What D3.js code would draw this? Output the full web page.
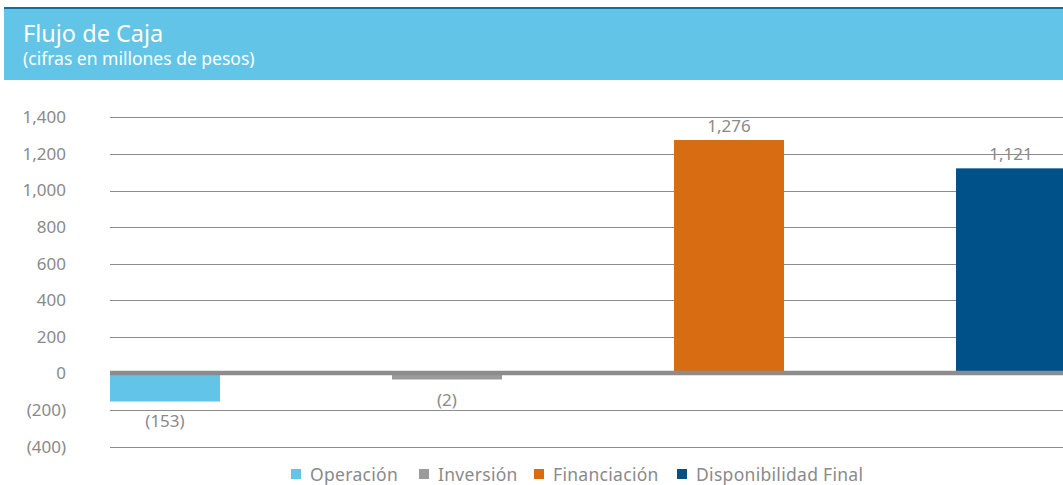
<!DOCTYPE html>
<html>
<head>
<meta charset="utf-8">
<script src="https://cdn.jsdelivr.net/npm/d3@7"></script>
<style>
  body { margin: 0; background: #fff; }
  svg { display: block; font-family: "Noto Sans", "Open Sans", sans-serif; }
</style>
</head>
<body>
<svg id="chart" width="1063" height="485"></svg>
<script>
var categories = ["Operación", "Inversión", "Financiación", "Disponibilidad Final"];
var values     = [-153, -2, 1276, 1121];
var colors     = ["#62c4e6", "#9b9b9b", "#d86c12", "#00508a"];
var yTicks     = [-400, -200, 0, 200, 400, 600, 800, 1000, 1200, 1400];

var title    = "Flujo de Caja";
var subtitle = "(cifras en millones de pesos)";

var svg = d3.select("#chart");
var W = +svg.attr("width");

function fmt(v){
    var s = d3.format(",")(Math.abs(v));
    return v < 0 ? "(" + s + ")" : s;
}

// header band
svg.append("rect").attr("x", 4).attr("y", 8).attr("width", W - 4).attr("height", 72)
    .attr("fill", "#62c4e6");
svg.append("rect").attr("x", 4).attr("y", 7).attr("width", W - 4).attr("height", 2)
    .attr("fill", "#0e6f9e");
svg.append("text").attr("x", 23).attr("y", 41.5)
    .attr("fill", "#fff").attr("font-size", "23.5px").text(title);
svg.append("text").attr("x", 23).attr("y", 65)
    .attr("fill", "#fff").attr("font-size", "17.5px").text(subtitle);

var x = d3.scaleBand().domain(categories).range([110, 1066])
    .paddingInner(0.61).paddingOuter(0).align(0);
var y = d3.scaleLinear().domain([-400, 1400]).range([446.7, 117.3]);

// grid
var g = svg.append("g");
g.selectAll("line.grid").data(yTicks.filter(function(d){ return d !== 0; }))
    .enter().append("line")
    .attr("class", "grid")
    .attr("x1", 110).attr("x2", W)
    .attr("y1", function(d){ return Math.round(y(d)) + 0.5; })
    .attr("y2", function(d){ return Math.round(y(d)) + 0.5; })
    .attr("stroke", "#8c8c8c").attr("stroke-width", 1);

// y tick labels
var yAxis = d3.axisLeft(y).tickValues(yTicks).tickFormat(fmt).tickSize(0).tickPadding(0);
var ax = svg.append("g").attr("transform", "translate(66,0)").call(yAxis);
ax.select(".domain").remove();
ax.selectAll("text").attr("fill", "#8a8a8a").attr("font-size", "17px")
    .attr("font-family", "'Noto Sans', sans-serif");

// bars (tiny values get a minimum visible height)
svg.selectAll("rect.bar").data(values).enter().append("rect")
    .attr("class", "bar")
    .attr("x", function(d, i){ return x(categories[i]); })
    .attr("width", x.bandwidth())
    .attr("y", function(d){ return d >= 0 ? y(d) : y(0); })
    .attr("height", function(d){ return Math.max(Math.abs(y(d) - y(0)), 6); })
    .attr("fill", function(d, i){ return colors[i]; });

// zero line on top
svg.append("line").attr("x1", 110).attr("x2", W)
    .attr("y1", y(0) - 0.5).attr("y2", y(0) - 0.5)
    .attr("stroke", "#8c8c8c").attr("stroke-width", 4.5);

// value labels
svg.selectAll("text.val").data(values).enter().append("text")
    .attr("class", "val")
    .attr("x", function(d, i){ return x(categories[i]) + x.bandwidth() / 2; })
    .attr("y", function(d){
        if (d >= 0) return y(d) - 8;
        return y(0) + Math.max(Math.abs(y(d) - y(0)), 6) + 26;
    })
    .attr("text-anchor", "middle")
    .attr("fill", "#8a8a8a").attr("font-size", "17px")
    .text(fmt);

// legend
var legendX = [291, 419, 534, 677];
var lg = svg.append("g");
categories.forEach(function(c, i){
    lg.append("rect").attr("x", legendX[i]).attr("y", 469).attr("width", 10).attr("height", 10)
        .attr("fill", colors[i]);
    lg.append("text").attr("x", legendX[i] + 19).attr("y", 480.5)
        .attr("fill", "#8a8a8a").attr("font-size", "17.5px")
        .attr("letter-spacing", "0.3px").text(c);
});
</script>
</body>
</html>
